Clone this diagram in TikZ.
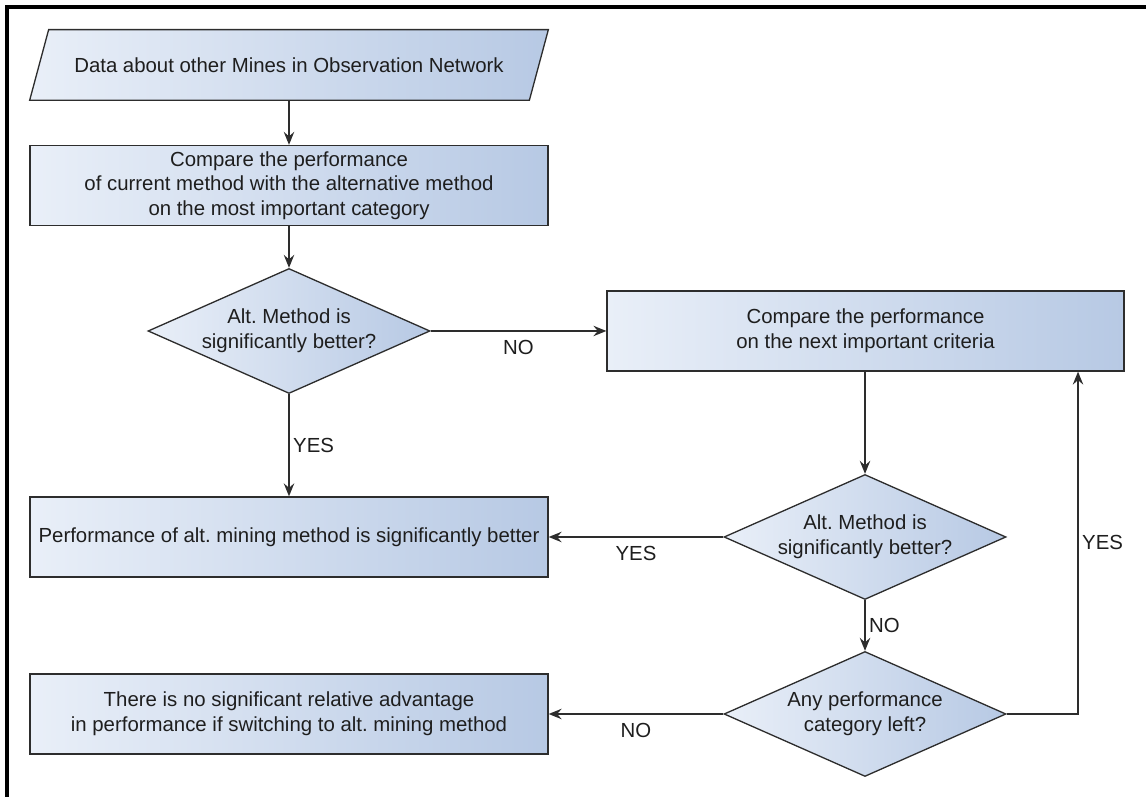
\documentclass[tikz,border=0pt]{standalone}
\usepackage{fontspec}
\setmainfont{Liberation Sans}
\frenchspacing
\usetikzlibrary{shapes.geometric,arrows.meta}

\definecolor{boxleft}{RGB}{233,239,248}
\definecolor{boxright}{RGB}{183,201,228}
\definecolor{edge}{RGB}{45,45,45}
\definecolor{ink}{RGB}{30,30,30}

\tikzset{
  base/.style={draw=edge,line width=0.75pt,left color=boxleft,right color=boxright,
    text=ink,align=center,font=\fontsize{11.6}{14}\selectfont,inner sep=0pt},
  procbox/.style={base,rectangle,minimum width=10.36cm,minimum height=1.6cm},
  inbox/.style={rectangle,text=ink,align=center,font=\fontsize{11.6}{14}\selectfont,
    minimum width=10.36cm,minimum height=1.4cm,inner sep=0pt},
  decbox/.style={base,diamond,aspect=2.25,minimum width=5.64cm,minimum height=2.5cm},
  flow/.style={draw=edge,line width=0.75pt,-{Stealth[length=2.6mm,width=2.1mm,inset=0.9mm]}},
  lbl/.style={text=ink,font=\fontsize{11.6}{14}\selectfont,inner sep=2pt}
}

\begin{document}
\begin{tikzpicture}
\useasboundingbox (0,0) rectangle (22.92,15.94);
\draw[line width=2.3pt,black] (0.14,0) -- (0.14,15.8) -- (22.92,15.8); %frame

% left column
\node[inbox] (data) at (5.78,14.64) {};
\path[base] (data.south west) -- ([xshift=0.38cm]data.north west) -- (data.north east)
  -- ([xshift=-0.38cm]data.south east) -- cycle; %input slab
\node[inbox] at (data) {Data about other Mines in Observation Network};
\node[procbox] (cmp)  at (5.78,12.23) {Compare the performance\\ of current method with the alternative method\\ on the most important category};
\node[decbox]  (dec1) at (5.78,9.32)  {Alt. Method is\\ significantly better?};
\node[procbox] (better) at (5.78,5.2) {Performance of alt. mining method is significantly better};
\node[procbox] (noadv)  at (5.78,1.66) {There is no significant relative advantage\\ in performance if switching to alt. mining method};

% right column
\node[procbox,minimum width=10.34cm] (next) at (17.31,9.32) {Compare the performance\\ on the next important criteria};
\node[decbox] (dec2) at (17.3,5.2)  {Alt. Method is\\ significantly better?};
\node[decbox] (dec3) at (17.3,1.66) {Any performance\\ category left?};
\coordinate (turn) at (21.56,1.66);

% connectors
\draw[flow] (data) -- (cmp);
\draw[flow] (cmp) -- (dec1);
\draw[flow] (dec1) -- node[lbl,below=3pt] {NO} (next);
\draw[flow] (dec1) -- node[lbl,right] {YES} (better);
\draw[flow] (next.south -| dec2) -- (dec2);
\draw[flow] (dec2) -- node[lbl,below=3pt] {YES} (better);
\draw[flow] (dec2) -- node[lbl,right] {NO} (dec3);
\draw[flow] (dec3) -- node[lbl,below=3pt] {NO} (noadv);
\draw[flow] (dec3.east) -- (turn) -- node[lbl,right] {YES} (turn |- next.south);

\end{tikzpicture}
\end{document}
